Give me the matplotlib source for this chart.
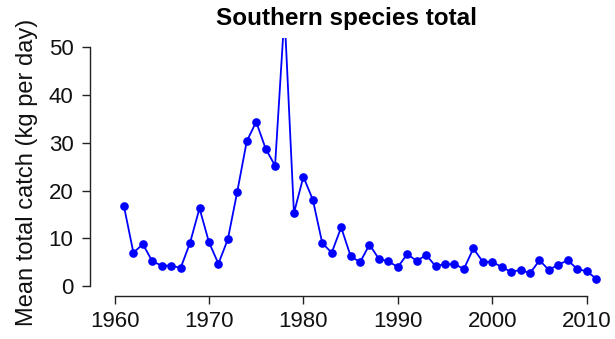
import numpy as np
import matplotlib.pyplot as plt

plt.rcParams['font.family'] = ['Liberation Sans', 'DejaVu Sans']

# mean catch per year, kg per day
years = np.arange(1961, 2012)
catch = [16.7, 7.0, 8.8, 5.2, 4.3, 4.3, 3.8, 9.1, 16.3, 9.2,
         4.7, 9.8, 19.8, 30.3, 34.4, 28.8, 25.2, 57.0, 15.3, 22.9,
         18.1, 9.0, 7.0, 12.3, 6.3, 5.0, 8.7, 5.7, 5.2, 4.0,
         6.7, 5.3, 6.5, 4.2, 4.6, 4.6, 3.6, 7.9, 5.1, 5.1,
         4.0, 3.0, 3.4, 2.7, 5.4, 3.4, 4.5, 5.4, 3.6, 3.1,
         1.6]
xticks = [1960, 1970, 1980, 1990, 2000, 2010]
yticks = [0, 10, 20, 30, 40, 50]

fig = plt.figure(figsize=(6.15, 3.39), dpi=100)
ax = fig.add_axes([0.1463, 0.1277, 0.8537, 0.761])

ax.plot(years, catch, color='blue', lw=1.3, marker='o', ms=5.2, mec='blue', mfc='blue')

ax.set_xlim(1957.4, 2013)
ax.set_ylim(-2, 52)
ax.set_xticks(xticks)
ax.set_yticks(yticks)

# R-style detached axes
for s in ['top', 'right']:
    ax.spines[s].set_visible(False)
ax.spines['left'].set_bounds(0, 50)
ax.spines['bottom'].set_bounds(1960, 2010)
for s in ['left', 'bottom']:
    ax.spines[s].set_linewidth(1.0)
    ax.spines[s].set_color('#222222')
ax.tick_params(direction='out', length=5.8, width=1.0, color='#222222',
               labelsize=16, labelcolor='#111111')
ax.tick_params(axis='y', pad=6)
ax.tick_params(axis='x', pad=5)

ax.set_ylabel('Mean total catch (kg per day)', fontsize=17, color='#111111')
ax.yaxis.set_label_coords(-0.099, 0.479)
ax.set_title('Southern species total', fontsize=17.5, fontweight='bold',
             x=0.488, pad=9)

fig.savefig('out.png', dpi=100)
